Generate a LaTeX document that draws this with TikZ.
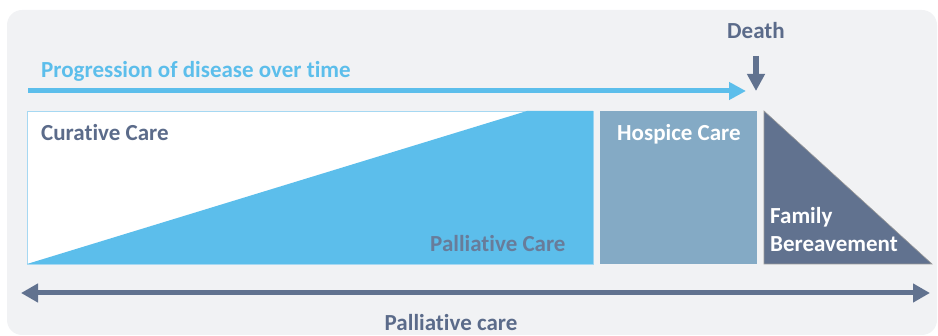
\documentclass[tikz,border=0pt]{standalone}
\usepackage{fontspec}
\setmainfont{Carlito}[Ligatures=NoCommon]
\usetikzlibrary{positioning, arrows.meta, calc}
\definecolor{bgGrey}{HTML}{F1F2F4}
\definecolor{skyBlue}{HTML}{5CBEEB}
\definecolor{edgeBlue}{HTML}{A6D8F2}
\definecolor{hospiceBlue}{HTML}{84AAC5}
\definecolor{slateBlue}{HTML}{61728F}
\definecolor{labelGrey}{HTML}{5B6B8A}
\definecolor{innerGrey}{HTML}{687C9A}
\newcommand{\labelFont}{\fontsize{23}{26}\selectfont\bfseries}
\tikzstyle{careBox}=[inner sep=0pt, outer sep=0pt, anchor=north west]
\tikzstyle{careLabel}=[font=\labelFont, text=labelGrey, inner sep=0pt, anchor=base west]
\tikzstyle{thickArrow}=[-{Triangle[length=17pt, width=17pt]}, line width=5pt]

\begin{document}
\begin{tikzpicture}[x=1pt, y=-1pt]
  \useasboundingbox (0,0) rectangle (938,336);
  % panel
  \fill[bgGrey, rounded corners=15pt] (7,10) rectangle (937,335);
  % boxes
  \node[careBox, fill=white, draw=edgeBlue, line width=0.8pt,
    minimum width=566pt, minimum height=153pt] (curative) at (27,111) {};
  \fill[skyBlue] (curative.south west) -- (527,111) -- (curative.north east)
    -- (curative.south east) -- cycle;
  \node[careBox, fill=hospiceBlue, minimum width=157pt, minimum height=153pt]
    (hospice) at (600,111) {};
  \coordinate (famTop) at (764,111);
  \coordinate (famBase) at (764,264);
  \coordinate (famTip) at (932,264);
  \filldraw[fill=slateBlue, draw=gray!80, line width=0.6pt]
    (famTop) -- (famBase) -- (famTip) -- cycle;
  % labels
  \node[careLabel] (curLabel) at (41,141) {Curative Care};
  \node[careLabel, text=innerGrey] (palLabel) at (430,252) {Palliative Care};
  \node[careLabel, text=white] (hosLabel) at (617,141) {Hospice Care};
  \node[careLabel, text=white] (famLabel) at (770,224) {Family};
  \node[careLabel, text=white] (berLabel) at (770,252) {Bereavement};
  \node[careLabel, text=skyBlue] (progLabel) at (41,78) {Progression of disease over time};
  \node[careLabel, anchor=base] (deathLabel) at (756,39) {Death};
  \node[careLabel, anchor=base] (spanLabel) at (451,331) {Palliative care};
  % arrows
  \coordinate (progStart) at (28,91);
  \coordinate (progEnd) at (746,91);
  \draw[thickArrow, skyBlue] (progStart) -- (progEnd);
  \coordinate (deathTop) at (756,56);
  \coordinate (deathTip) at (756,91);
  \draw[thickArrow, slateBlue, line width=5.5pt] (deathTop) -- (deathTip);
  \coordinate (spanLeft) at (21,293);
  \coordinate (spanRight) at (930,293);
  \draw[{Triangle[length=17pt, width=18pt]}-{Triangle[length=17pt, width=18pt]},
    line width=5pt, slateBlue] (spanLeft) -- (spanRight);
\end{tikzpicture}
\end{document}
